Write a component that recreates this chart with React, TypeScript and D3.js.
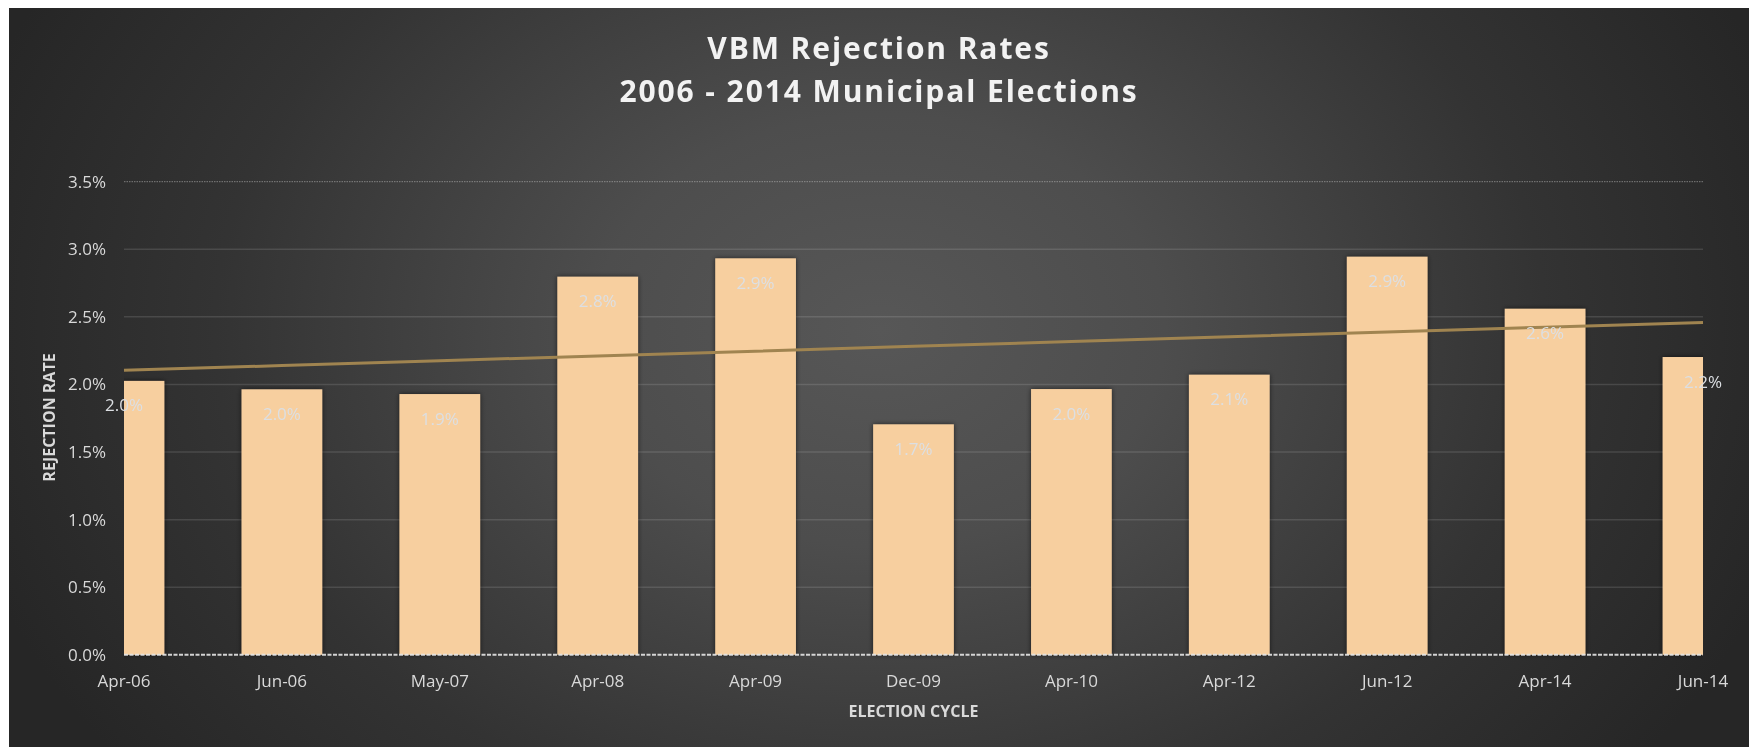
import React, { useEffect, useRef } from "react";
import * as d3 from "d3";

// election cycles on the x axis
const cycles = [
  "Apr-06",
  "Jun-06",
  "May-07",
  "Apr-08",
  "Apr-09",
  "Dec-09",
  "Apr-10",
  "Apr-12",
  "Jun-12",
  "Apr-14",
  "Jun-14"
];

// rejection rate in percent
const rejectionRates = [2.026, 1.964, 1.929, 2.797, 2.933, 1.705, 1.966, 2.072, 2.945, 2.56, 2.203];

const yTicks = [0, 0.5, 1, 1.5, 2, 2.5, 3, 3.5];
const titleLines = ["VBM Rejection Rates", "2006 - 2014 Municipal Elections"];
const yTitle = "REJECTION RATE";
const xTitle = "ELECTION CYCLE";

const W = 1749;
const H = 747;
const margin = { left: 124, right: 46, top: 181.7, bottom: 92.2 };
const FONT = "'Open Sans', 'Liberation Sans', sans-serif";

export default function App() {
  const ref = useRef<SVGSVGElement>(null);

  useEffect(() => {
    const svg = d3.select(ref.current);
    svg.selectAll("*").remove();

    const x0 = margin.left;
    const x1 = W - margin.right;
    const y0 = H - margin.bottom;
    const y1 = margin.top;

    const defs = svg.append("defs");
    const grad = defs
      .append("radialGradient")
      .attr("id", "bg")
      .attr("gradientUnits", "userSpaceOnUse")
      .attr("cx", 0)
      .attr("cy", 0)
      .attr("r", 1)
      .attr("gradientTransform", "translate(880 330) scale(950 720)");
    [
      [0, "#575757"],
      [0.3, "#4d4d4d"],
      [0.7, "#333333"],
      [1, "#262626"]
    ].forEach(([o, c]) => grad.append("stop").attr("offset", o as number).attr("stop-color", c as string));

    defs
      .append("clipPath")
      .attr("id", "plotClip")
      .append("rect")
      .attr("x", x0)
      .attr("y", 0)
      .attr("width", x1 - x0)
      .attr("height", H);

    const shadow = defs
      .append("filter")
      .attr("id", "shadow")
      .attr("x", "-20%")
      .attr("y", "-20%")
      .attr("width", "140%")
      .attr("height", "140%");
    shadow
      .append("feDropShadow")
      .attr("dx", 0)
      .attr("dy", 0)
      .attr("stdDeviation", 2.5)
      .attr("flood-color", "#000")
      .attr("flood-opacity", 0.6);

    svg
      .append("rect")
      .attr("x", 9)
      .attr("y", 8)
      .attr("width", W - 9)
      .attr("height", H - 8)
      .attr("fill", "url(#bg)");

    const x = d3.scalePoint<string>().domain(cycles).range([x0, x1]).padding(0);
    const y = d3.scaleLinear().domain([0, 3.5]).range([y0, y1]);
    const barW = x.step() * 0.511;

    // gridlines
    svg
      .append("g")
      .selectAll("line")
      .data(yTicks.filter(t => t > 0 && t < 3.5))
      .enter()
      .append("line")
      .attr("x1", x0)
      .attr("x2", x1)
      .attr("y1", d => y(d))
      .attr("y2", d => y(d))
      .attr("stroke", "#ffffff")
      .attr("stroke-opacity", 0.12)
      .attr("stroke-width", 1.5);

    svg
      .append("line")
      .attr("x1", x0)
      .attr("x2", x1)
      .attr("y1", y(3.5))
      .attr("y2", y(3.5))
      .attr("stroke", "#bfbfbf")
      .attr("stroke-opacity", 0.55)
      .attr("stroke-width", 1)
      .attr("stroke-dasharray", "1.5,1");

    // y tick labels
    svg
      .append("g")
      .selectAll("text")
      .data(yTicks)
      .enter()
      .append("text")
      .attr("x", 106)
      .attr("y", d => y(d))
      .attr("dy", "0.35em")
      .attr("text-anchor", "end")
      .attr("font-family", FONT)
      .attr("font-size", 17)
      .attr("fill", "#d9d9d9")
      .text(d => d3.format(".1%")(d / 100));

    // bars
    svg
      .append("g")
      .attr("clip-path", "url(#plotClip)")
      .append("g")
      .attr("filter", "url(#shadow)")
      .selectAll("rect")
      .data(rejectionRates)
      .enter()
      .append("rect")
      .attr("x", (d, i) => (x(cycles[i]) as number) - barW / 2)
      .attr("y", d => y(d))
      .attr("width", barW)
      .attr("height", d => y0 - y(d))
      .attr("fill", "#f7cf9f");

    // x axis line
    svg
      .append("line")
      .attr("x1", x0)
      .attr("x2", x1)
      .attr("y1", y0)
      .attr("y2", y0)
      .attr("stroke", "#e6e6e6")
      .attr("stroke-opacity", 0.9)
      .attr("stroke-width", 2)
      .attr("stroke-dasharray", "4,1.5");

    // linear trendline from least squares
    const idx = rejectionRates.map((_, i) => i);
    const mx = d3.mean(idx) as number;
    const my = d3.mean(rejectionRates) as number;
    const slope =
      (d3.sum(idx, i => (i - mx) * (rejectionRates[i] - my)) as number) /
      (d3.sum(idx, i => (i - mx) * (i - mx)) as number);
    const trend = idx.map(i => my + slope * (i - mx));
    const line = d3
      .line<number>()
      .x((d, i) => x(cycles[i]) as number)
      .y(d => y(d));
    svg
      .append("path")
      .datum(trend)
      .attr("d", line)
      .attr("fill", "none")
      .attr("stroke", "#a08450")
      .attr("stroke-width", 3);

    // data labels
    svg
      .append("g")
      .selectAll("text")
      .data(rejectionRates)
      .enter()
      .append("text")
      .attr("x", (d, i) => x(cycles[i]) as number)
      .attr("y", d => y(d) + 30.5)
      .attr("text-anchor", "middle")
      .attr("font-family", FONT)
      .attr("font-size", 17)
      .attr("fill", "#dcdfe3")
      .text(d => d3.format(".1%")(d / 100));

    // x tick labels
    svg
      .append("g")
      .selectAll("text")
      .data(cycles)
      .enter()
      .append("text")
      .attr("x", d => x(d) as number)
      .attr("y", 687)
      .attr("text-anchor", "middle")
      .attr("font-family", FONT)
      .attr("font-size", 17)
      .attr("fill", "#d9d9d9")
      .text(d => d);

    // axis titles
    svg
      .append("text")
      .attr("transform", "translate(49.5,417.5) rotate(-90)")
      .attr("text-anchor", "middle")
      .attr("dy", "0.35em")
      .attr("font-family", FONT)
      .attr("font-weight", "bold")
      .attr("font-size", 16)
      .attr("fill", "#d9d9d9")
      .text(yTitle);

    svg
      .append("text")
      .attr("x", (x0 + x1) / 2)
      .attr("y", 717.3)
      .attr("text-anchor", "middle")
      .attr("font-family", FONT)
      .attr("font-weight", "bold")
      .attr("font-size", 16)
      .attr("fill", "#d9d9d9")
      .text(xTitle);

    // chart title
    svg
      .append("g")
      .selectAll("text")
      .data(titleLines)
      .enter()
      .append("text")
      .attr("x", 879)
      .attr("y", (d, i) => 59.3 + i * 42.4)
      .attr("text-anchor", "middle")
      .attr("font-family", FONT)
      .attr("font-weight", "bold")
      .attr("font-size", 30)
      .attr("letter-spacing", 1.9)
      .attr("fill", "#f2f2f2")
      .text(d => d);
  }, []);

  return (
    <svg
      ref={ref}
      width={W}
      height={H}
      style={{ position: "fixed", left: 0, top: 0, display: "block" }}
    />
  );
}
